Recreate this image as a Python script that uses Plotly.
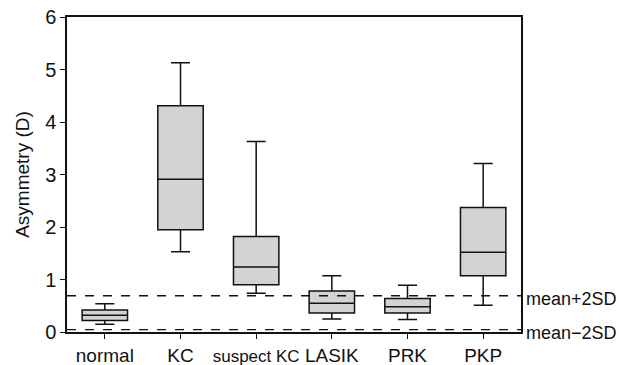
import plotly.graph_objects as go

# Asymmetry (D) by group: five-number summaries
groups = ["normal", "KC", "suspect KC", "LASIK", "PRK", "PKP"]
lower_whisker = [0.15, 1.53, 0.74, 0.25, 0.24, 0.51]
q1_values = [0.22, 1.95, 0.90, 0.36, 0.36, 1.07]
medians = [0.32, 2.91, 1.24, 0.55, 0.48, 1.52]
q3_values = [0.42, 4.31, 1.82, 0.78, 0.64, 2.37]
upper_whisker = [0.54, 5.13, 3.63, 1.07, 0.89, 3.21]

# reference limits from the normal group
mean_plus_2sd = 0.69
mean_minus_2sd = 0.045
y_ticks = [0, 1, 2, 3, 4, 5, 6]

font_main = "Liberation Sans, Arial, sans-serif"

# the long group name is set a little smaller so it fits its slot
tick_text = [g if g != "suspect KC" else '<span style="font-size:17px">%s</span>' % g for g in groups]

fig = go.Figure()
fig.add_trace(go.Box(
    x=groups,
    q1=q1_values,
    median=medians,
    q3=q3_values,
    lowerfence=lower_whisker,
    upperfence=upper_whisker,
    fillcolor="#d3d3d3",
    line=dict(color="#111111", width=1.5),
    whiskerwidth=0.42,
    width=0.6,
    boxpoints=False,
    hoverinfo="skip",
    showlegend=False,
))

for level, label in [(mean_plus_2sd, "mean+2SD"), (mean_minus_2sd, "mean\u22122SD")]:
    fig.add_shape(type="line", xref="paper", yref="y", x0=0, x1=1, y0=level, y1=level,
                  line=dict(color="#111111", width=1.3, dash="dash"))
    fig.add_annotation(xref="paper", yref="y", x=1, y=level, text=label, showarrow=False,
                       xanchor="left", xshift=3, yshift=-3,
                       font=dict(family=font_main, size=18, color="#111111"))

fig.update_layout(
    width=619, height=365,
    margin=dict(l=67, r=98, t=17, b=33),
    paper_bgcolor="white", plot_bgcolor="white",
    xaxis=dict(
        type="category", range=[-0.5, 5.5], automargin=False,
        tickvals=groups, ticktext=tick_text,
        showline=True, mirror=True, linecolor="#111111", linewidth=1.5,
        ticks="outside", ticklen=5, tickcolor="#111111",
        tickfont=dict(family=font_main, size=19, color="#111111"),
        showgrid=False,
    ),
    yaxis=dict(
        range=[0, 6], tickvals=y_ticks, automargin=False,
        showline=True, mirror=True, linecolor="#111111", linewidth=1.5,
        ticks="outside", ticklen=5, tickcolor="#111111",
        tickfont=dict(family=font_main, size=20, color="#111111"),
        title=dict(text="Asymmetry (D)", font=dict(family=font_main, size=19, color="#111111"), standoff=10),
        showgrid=False, zeroline=False,
    ),
)

fig.write_html("out.html")
